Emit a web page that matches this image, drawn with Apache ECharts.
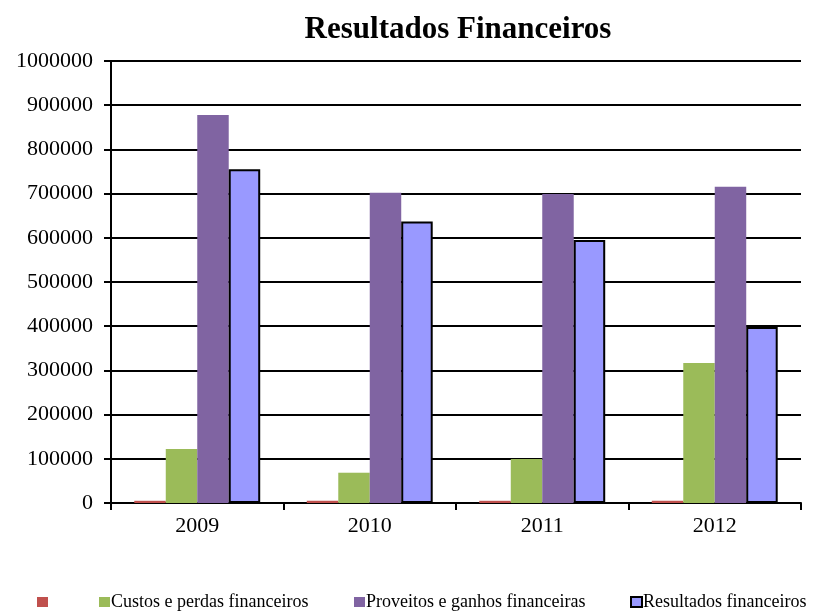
<!DOCTYPE html>
<html>
<head>
<meta charset="utf-8">
<script src="https://cdn.jsdelivr.net/npm/echarts@6/dist/echarts.min.js"></script>
<style>
  html, body { margin: 0; padding: 0; background: #fff; }
  #chart { width: 814px; height: 612px; }
</style>
</head>
<body>
<div id="chart"></div>
<script>
const years = ['2009', '2010', '2011', '2012']
const serieVermelha = [5000, 5000, 5000, 5000]
const custos = [122000, 68500, 99500, 317000]
const proveitos = [878000, 702000, 699000, 715500]
const resultados = [755000, 637000, 595000, 398000]

const nomes = [' ', 'Custos e perdas financeiros', 'Proveitos e ganhos financeiras', 'Resultados financeiros']
const cores = ['#c0504d', '#9bbb59', '#8064a2', '#9999ff']
const fonte = 'Liberation Serif, Times New Roman, serif'

const chart = echarts.init(document.getElementById('chart'))

// uma legenda por item, para acertar as posições
const legendLefts = [37, 99, 354, 630]
const legends = nomes.map((n, i) => ({
  data: [n],
  left: legendLefts[i],
  top: 593,
  icon: 'rect',
  itemWidth: 11,
  itemHeight: 10,
  itemGap: 0,
  padding: 0,
  textStyle: { fontFamily: fonte, fontSize: 18, color: '#000', padding: [0, 0, 0, -4] }
}))

const option = {
  animation: false,
  title: {
    text: 'Resultados Financeiros',
    left: 453,
    textAlign: 'center',
    top: 9,
    textStyle: { fontFamily: fonte, fontSize: 31, fontWeight: 'bold', color: '#000' }
  },
  legend: legends,
  grid: { left: 111, right: 13, top: 61, bottom: 109, containLabel: false },
  xAxis: {
    type: 'category',
    data: years,
    axisLine: { lineStyle: { color: '#000', width: 2 } },
    axisTick: { show: true, length: 7, lineStyle: { color: '#000', width: 2 } },
    axisLabel: { fontFamily: fonte, fontSize: 22, color: '#000', margin: 12 }
  },
  yAxis: {
    type: 'value',
    min: 0,
    max: 1000000,
    interval: 100000,
    axisLine: { show: true, lineStyle: { color: '#000', width: 2 } },
    axisTick: { show: true, length: 7, lineStyle: { color: '#000', width: 2 } },
    axisLabel: { fontFamily: fonte, fontSize: 22, color: '#000', margin: 18, formatter: v => String(v) },
    splitLine: { lineStyle: { color: '#000', width: 2 } }
  },
  series: [
    { name: nomes[0], type: 'bar', data: serieVermelha, barGap: '0%', barCategoryGap: '27%', itemStyle: { color: cores[0] } },
    { name: nomes[1], type: 'bar', data: custos, itemStyle: { color: cores[1] } },
    { name: nomes[2], type: 'bar', data: proveitos, itemStyle: { color: cores[2] } },
    { name: nomes[3], type: 'bar', data: resultados, itemStyle: { color: cores[3], borderColor: '#000', borderWidth: 2 } }
  ]
}

chart.setOption(option)
</script>
</body>
</html>
